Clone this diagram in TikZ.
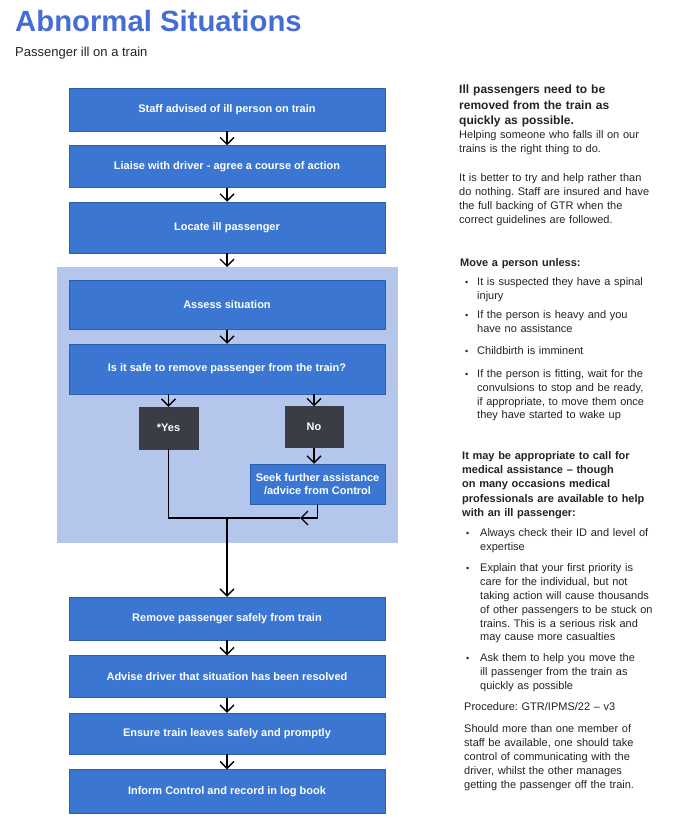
\documentclass[tikz,border=0pt]{standalone}
\usepackage{fontspec}
\setmainfont{Liberation Sans}
\usepackage{xcolor}
\usetikzlibrary{positioning, arrows.meta, backgrounds}
\definecolor{boxblue}{RGB}{58,118,210}
\definecolor{panelblue}{RGB}{181,198,236}
\definecolor{darkbox}{RGB}{58,61,70}
\definecolor{titleblue}{RGB}{70,108,214}
\definecolor{textgray}{RGB}{35,35,35}
\frenchspacing

\begin{document}
\begin{tikzpicture}[x=1pt, y=-1pt,
      node distance=14pt,
      flow/.style={draw=boxblue!80!black, line width=0.5pt, fill=boxblue, text=white, align=center, minimum width=316pt, inner sep=0pt, font=\fontsize{11}{13}\selectfont\bfseries},
      dark/.style={flow, fill=darkbox, draw=darkbox, minimum width=59pt, minimum height=42pt},
      arr/.style={-{Straight Barb[length=7pt, width=14pt]}, line width=1.3pt},
      link/.style={line width=1.3pt},
      note/.style={anchor=base west, inner sep=0pt, align=left, text width=200pt, text=textgray, font=\fontsize{11}{13.8}\selectfont},
      head/.style={note, font=\fontsize{11}{14.2}\selectfont\bfseries},
      dot/.style={anchor=base west, inner sep=0pt, text=textgray, font=\fontsize{9}{10}\selectfont}
    ]
    \useasboundingbox (0,0) rectangle (673,826);

    % Title
    \node[anchor=base west, inner sep=0pt, text=titleblue, font=\fontsize{29.3}{34}\selectfont\bfseries] (title) at (15,32) {Abnormal Situations};
    \node[anchor=base west, inner sep=0pt, text=textgray, font=\fontsize{13}{15}\selectfont] (subtitle) at (15,57) {Passenger ill on a train};

    % Flow boxes
    \node[flow, minimum height=43pt] (s1) at (227,109.5) {Staff advised of ill person on train};
    \node[flow, minimum height=42pt, below=of s1] (s2) {Liaise with driver - agree a course of action};
    \node[flow, minimum height=51pt, below=of s2] (s3) {Locate ill passenger};
    \node[flow, minimum height=49pt, below=27pt of s3] (s4) {Assess situation};
    \node[flow, minimum height=50pt, below=of s4] (s5) {Is it safe to remove passenger from the train?};

    \node[dark] (yes) at (168.5,428) {*Yes};
    \node[dark, minimum width=58pt, minimum height=41pt] (no) at (314,427) {No};
    \node[flow, minimum width=135pt, minimum height=40pt] (seek) at (317.5,484) {Seek further assistance\\/advice from Control};

    \node[flow, minimum height=43pt] (s6) at (227,618.5) {Remove passenger safely from train};
    \node[flow, minimum height=42pt, below=15pt of s6] (s7) {Advise driver that situation has been resolved};
    \node[flow, minimum height=41pt, below=15pt of s7] (s8) {Ensure train leaves safely and promptly};
    \node[flow, minimum height=44pt, below=15pt of s8] (s9) {Inform Control and record in log book};

    \coordinate (paneltop) at (227,267);
    \coordinate (join) at (227,518);
    \coordinate (tip) at (300,518);

    % Panel behind the decision
    \begin{scope}[on background layer]
      \fill[panelblue] (57,267) rectangle (398,543);
    \end{scope}

    % Edges
    \draw[arr] (s1) -- (s2);
    \draw[arr] (s2) -- (s3);
    \draw[arr] (s3) -- (paneltop);
    \draw[arr] (s4) -- (s5);
    \draw[arr] (s5.south -| yes.north) -- (yes.north);
    \draw[arr] (s5.south -| no.north) -- (no.north);
    \draw[arr] (no.south) -- (no.south |- seek.north);
    \draw[link] (yes.south) |- (join) -- (tip);
    \draw[arr] (seek.south) |- (tip);
    \draw[arr] (join) -- (s6.north);
    \draw[arr] (s6) -- (s7);
    \draw[arr] (s7) -- (s8);
    \draw[arr] (s8) -- (s9);

    % Notes
    \node[head, font=\fontsize{12}{15.3}\selectfont\bfseries] (n1) at (459,94) {Ill passengers need to be\\removed from the train as\\quickly as possible.};
    \node[note] (n2) at (459,139) {Helping someone who falls ill on our\\trains is the right thing to do.};
    \node[note] (n3) at (459,182) {It is better to try and help rather than\\do nothing. Staff are insured and have\\the full backing of GTR when the\\correct guidelines are followed.};

    \node[head] (n4) at (460,266.5) {Move a person unless:};
    \node[dot] (d1) at (465,285.5) {•};
    \node[note] (b1) at (477,285.5) {It is suspected they have a spinal\\injury};
    \node[dot] (d2) at (465,318.5) {•};
    \node[note] (b2) at (477,318.5) {If the person is heavy and you\\have no assistance};
    \node[dot] (d3) at (465,354) {•};
    \node[note] (b3) at (477,354) {Childbirth is imminent};
    \node[dot] (d4) at (465,377.5) {•};
    \node[note] (b4) at (477,377.5) {If the person is fitting, wait for the\\convulsions to stop and be ready,\\if appropriate, to move them once\\they have started to wake up};

    \node[head] (n5) at (462,459.5) {It may be appropriate to call for\\medical assistance – though\\on many occasions medical\\professionals are available to help\\with an ill passenger:};
    \node[dot] (d5) at (466,536.8) {•};
    \node[note] (b5) at (480,536.8) {Always check their ID and level of\\expertise};
    \node[dot] (d6) at (466,571.8) {•};
    \node[note] (b6) at (480,571.8) {Explain that your first priority is\\care for the individual, but not\\taking action will cause thousands\\of other passengers to be stuck on\\trains. This is a serious risk and\\may cause more casualties};
    \node[dot] (d7) at (466,661.8) {•};
    \node[note] (b7) at (480,661.8) {Ask them to help you move the\\ill passenger from the train as\\quickly as possible};

    \node[note] (n6) at (464,710.8) {Procedure: GTR/IPMS/22 – v3};
    \node[note] (n7) at (464,732.8) {Should more than one member of\\staff be available, one should take\\control of communicating with the\\driver, whilst the other manages\\getting the passenger off the train.};
  \end{tikzpicture}
\end{document}
